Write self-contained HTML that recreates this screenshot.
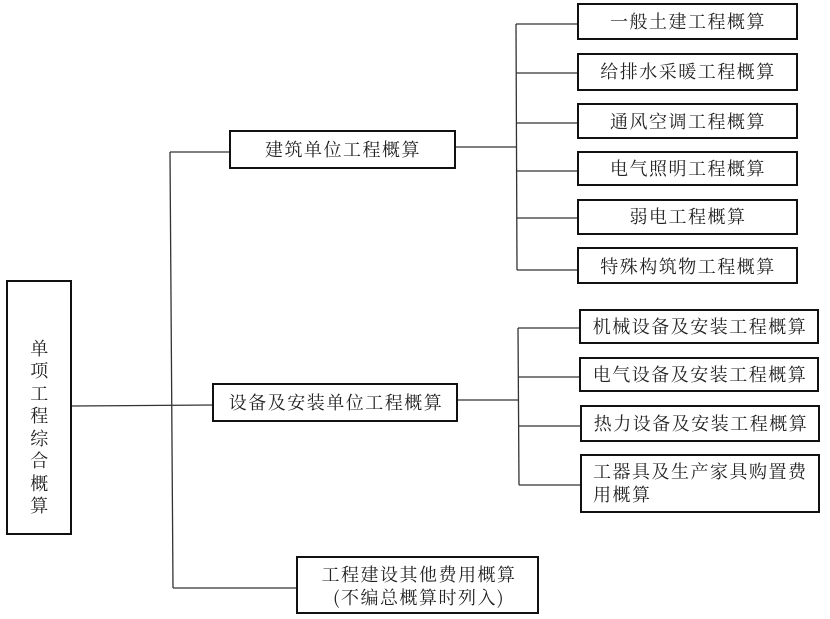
<!DOCTYPE html>
<html><head><meta charset="utf-8"><style>
html,body{margin:0;padding:0;background:#fff;}
svg{display:block;}
text{font-family:"Noto Serif CJK SC","Liberation Serif",serif;font-size:18px;letter-spacing:1.5px;fill:#222;}
</style></head><body>
<svg width="830" height="619" viewBox="0 0 830 619" xmlns="http://www.w3.org/2000/svg">
<g fill="none" stroke="#333" stroke-width="1.3">
<line x1="170" y1="152" x2="173" y2="588"/>
<line x1="72" y1="406" x2="213" y2="405"/>
<line x1="170" y1="152" x2="230" y2="152"/>
<line x1="173" y1="588" x2="297" y2="588"/>
<line x1="455" y1="147" x2="516" y2="147"/>
<line x1="516" y1="24" x2="517" y2="270"/>
<line x1="516" y1="24" x2="578" y2="24"/>
<line x1="516" y1="73" x2="578" y2="73"/>
<line x1="516" y1="123" x2="578" y2="123"/>
<line x1="517" y1="171" x2="578" y2="171"/>
<line x1="517" y1="218" x2="578" y2="218"/>
<line x1="517" y1="270" x2="578" y2="270"/>
<line x1="457" y1="400" x2="518" y2="400"/>
<line x1="518" y1="328" x2="519" y2="485"/>
<line x1="518" y1="328" x2="580" y2="328"/>
<line x1="518" y1="377" x2="580" y2="377"/>
<line x1="519" y1="426" x2="580" y2="426"/>
<line x1="519" y1="485" x2="580" y2="485"/>
</g>
<g fill="#fff" stroke="#111" stroke-width="2">
<rect x="7" y="281" width="64" height="253"/>
<rect x="230" y="131" width="225" height="37"/>
<rect x="213" y="384" width="244" height="37"/>
<rect x="297" y="557" width="241" height="56"/>
<rect x="578" y="4" width="219" height="35"/>
<rect x="578" y="54" width="219" height="36"/>
<rect x="578" y="104" width="219" height="34"/>
<rect x="578" y="152" width="219" height="33"/>
<rect x="578" y="200" width="219" height="34"/>
<rect x="578" y="248" width="219" height="35"/>
<rect x="580" y="310" width="238" height="33"/>
<rect x="580" y="358" width="238" height="33"/>
<rect x="581" y="406" width="238" height="35"/>
<rect x="581" y="455" width="238" height="57"/>
</g>
<g text-anchor="middle">
<text x="40" y="355">单</text>
<text x="40" y="377">项</text>
<text x="40" y="400">工</text>
<text x="40" y="422">程</text>
<text x="40" y="445">综</text>
<text x="40" y="467">合</text>
<text x="40" y="490">概</text>
<text x="40" y="512">算</text>
<text x="343" y="156">建筑单位工程概算</text>
<text x="336" y="409">设备及安装单位工程概算</text>
<text x="419" y="581">工程建设其他费用概算</text>
<text x="419" y="604">(不编总概算时列入)</text>
<text x="688" y="28">一般土建工程概算</text>
<text x="688" y="78">给排水采暖工程概算</text>
<text x="688" y="128">通风空调工程概算</text>
<text x="688" y="175">电气照明工程概算</text>
<text x="688" y="223">弱电工程概算</text>
<text x="688" y="273">特殊构筑物工程概算</text>
<text x="700" y="333">机械设备及安装工程概算</text>
<text x="700" y="381">电气设备及安装工程概算</text>
<text x="701" y="430">热力设备及安装工程概算</text>
</g>
<text x="593" y="478">工器具及生产家具购置费</text>
<text x="593" y="501">用概算</text>
</svg>
</body></html>
